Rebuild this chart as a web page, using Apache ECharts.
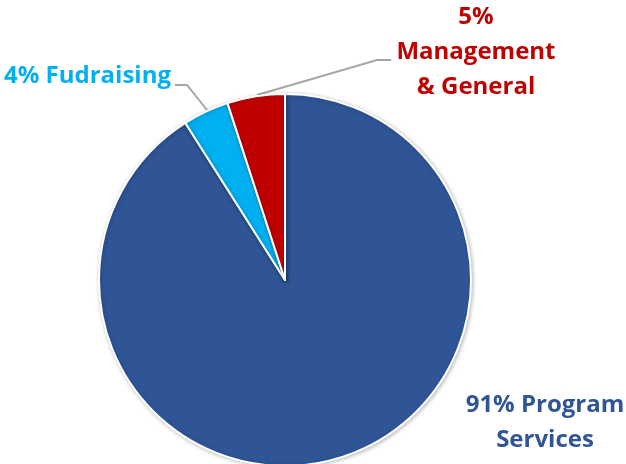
<!DOCTYPE html>
<html><head><meta charset="utf-8">
<script src="https://cdn.jsdelivr.net/npm/echarts@6/dist/echarts.min.js"></script>
<style>html,body{margin:0;padding:0;background:#fff}#c{width:626px;height:464px}</style>
</head><body><div id="c"></div>
<script>
const categories = ['Program\nServices', 'Fudraising', 'Management\n& General'];
const values = [91, 4, 5];
const colors = ['#2F5597', '#00B0F0', '#C00000'];

const chart = echarts.init(document.getElementById('c'), null, {renderer: 'canvas'});
const labelPos = [
  {x: 545, y: 423, align: 'center', verticalAlign: 'middle'},
  {x: 171, y: 76, align: 'right', verticalAlign: 'middle', line: [[207,110],[187,85],[175,85]]},
  {x: 476, y: 52, align: 'center', verticalAlign: 'middle', line: [[257,95],[377,60],[391,60]]}
];
chart.setOption({
  animation: false,
  series: [{
    type: 'pie',
    center: [285, 280],
    radius: 186,
    startAngle: 90,
    clockwise: true,
    data: categories.map((c, i) => ({
      name: c, value: values[i],
      itemStyle: {color: colors[i]},
      label: {color: colors[i]},
      labelLine: {show: i !== 0}
    })),
    itemStyle: {borderColor: '#fff', borderWidth: 2, shadowBlur: 4, shadowColor: 'rgba(0,0,0,0.25)', shadowOffsetX: 1, shadowOffsetY: 1},
    label: {
      show: true,
      position: 'outside',
      fontFamily: 'Open Sans',
      fontWeight: 'bold',
      fontSize: 24,
      lineHeight: 35,
      overflow: 'none',
      formatter: p => {
        if (p.dataIndex === 0) return p.value + '% Program\nServices';
        if (p.dataIndex === 1) return p.value + '% Fudraising';
        return p.value + '%\nManagement\n& General';
      }
    },
    labelLine: {lineStyle: {color: '#A6A6A6', width: 2}},
    labelLayout: p => {
      const l = labelPos[p.dataIndex];
      const r = {x: l.x, y: l.y, align: l.align, verticalAlign: l.verticalAlign};
      if (l.line) r.labelLinePoints = l.line;
      return r;
    }
  }]
});
</script></body></html>
